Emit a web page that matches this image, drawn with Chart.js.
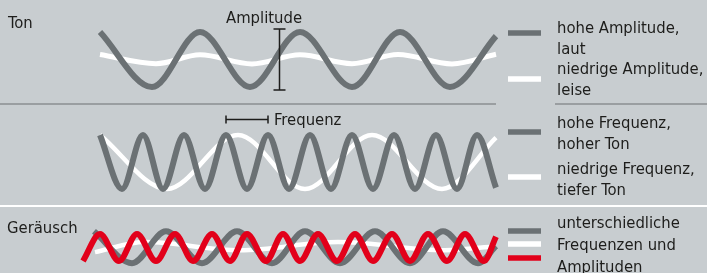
<!DOCTYPE html>
<html>
<head>
<meta charset="utf-8">
<script src="https://cdn.jsdelivr.net/npm/chart.js@4.4.1/dist/chart.umd.min.js"></script>
<style>
  body { margin: 0; background: #c8cdd0; }
  #wrap { position: relative; width: 707px; height: 273px; overflow: hidden;
          font-family: "DejaVu Sans Condensed", "DejaVu Sans", sans-serif; font-size: 16.5px; color: #1d1d1b; }
  canvas { position: absolute; left: 0; }
  .t { position: absolute; white-space: nowrap; line-height: 21px; }
  .rule { position: absolute; height: 2px; }
</style>
</head>
<body>
<div id="wrap">
  <canvas id="ton" width="707" height="104" style="top:0"></canvas>
  <canvas id="freq" width="707" height="102" style="top:104px"></canvas>
  <canvas id="rausch" width="707" height="67" style="top:206px"></canvas>

  <div class="rule" style="top:103px;left:0;width:496px;background:#9a9ea1"></div>
  <div class="rule" style="top:103px;left:555px;width:152px;background:#9a9ea1"></div>
  <div class="rule" style="top:205px;left:0;width:707px;background:#ffffff"></div>

  <div class="t" style="left:8px;top:12px">Ton</div>
  <div class="t" style="left:226px;top:7px">Amplitude</div>
  <div class="t" style="left:557px;top:17px">hohe Amplitude,<br>laut</div>
  <div class="t" style="left:557px;top:58px">niedrige Amplitude,<br>leise</div>

  <div class="t" style="left:274px;top:109px">Frequenz</div>
  <div class="t" style="left:557px;top:112px">hohe Frequenz,<br>hoher Ton</div>
  <div class="t" style="left:557px;top:158px">niedrige Frequenz,<br>tiefer Ton</div>

  <div class="t" style="left:7px;top:217px">Geräusch</div>
  <div class="t" style="left:557px;top:212px;line-height:22px">unterschiedliche<br>Frequenzen und<br>Amplituden</div>
</div>

<script>
// time (in periods of the loud tone) and relative amplitude
const tonLautT = [0, 0.52, 1.0, 1.5, 2.0, 2.52, 3.0, 3.5, 3.96];
const tonLautA = [1, -1, 1, -1, 1, -1, 1, -1, 0.85];
const tonLeiseT = [0, 0.56, 1.0, 1.52, 2.0, 2.52, 2.98, 3.52, 3.96];
const tonLeiseA = [0.18, -0.15, 0.17, -0.16, 0.17, -0.15, 0.18, -0.16, 0.19];

const freqHochT = [0, 0.22, 0.43, 0.63, 0.84, 1.05, 1.26, 1.47, 1.68, 1.89, 2.10, 2.31, 2.52, 2.73, 2.94, 3.15, 3.36, 3.57, 3.77, 3.96];
const freqHochA = [1, -1, 1, -1, 1, -1, 1, -1, 1, -1, 1, -1, 1, -1, 1, -1, 1, -1, 1, -0.95];
const freqTiefT = [0, 0.67, 1.38, 2.05, 2.72, 3.42, 3.96];
const freqTiefA = [1, -1, 1, -1, 1, -1, 0.9];

const rauschRotT = [-0.17, 0, 0.19, 0.37, 0.56, 0.75, 0.93, 1.12, 1.30, 1.47, 1.66, 1.83, 2.00, 2.18, 2.37, 2.55, 2.73, 2.92, 3.10, 3.28, 3.47, 3.65, 3.84, 3.96];
const rauschRotA = [-0.5, 0.5, -0.5, 0.5, -0.5, 0.5, -0.5, 0.5, -0.5, 0.5, -0.5, 0.5, -0.5, 0.5, -0.5, 0.5, -0.5, 0.5, -0.5, 0.5, -0.5, 0.5, -0.5, 0.4];
const rauschGrauT = [-0.06, 0.32, 0.66, 1.02, 1.37, 1.72, 2.05, 2.40, 2.75, 3.10, 3.43, 3.78, 3.96];
const rauschGrauA = [0.6, -0.58, 0.6, -0.58, 0.6, -0.58, 0.6, -0.58, 0.6, -0.58, 0.6, -0.58, 0.05];
const rauschWeissT = [-0.05, 0.45, 1.40, 2.38, 3.45, 3.96];
const rauschWeissA = [-0.17, 0.2, -0.1, 0.2, -0.1, 0.05];

const GRAU = '#6b7174';
const WEISS = '#ffffff';
const ROT = '#e2001a';

function pts(t, a) {
  return t.map((v, i) => ({ x: v, y: a[i] }));
}

function wave(label, t, a, color, width, order) {
  return {
    label: label,
    data: pts(t, a),
    borderColor: color,
    borderWidth: width,
    cubicInterpolationMode: 'monotone',
    pointRadius: 0,
    fill: false,
    order: order,
  };
}

// legend swatches + measuring bars
const decor = {
  id: 'decor',
  afterDatasetsDraw(chart, args, opts) {
    const ctx = chart.ctx;
    const xs = chart.scales.x;
    const ys = chart.scales.y;
    ctx.save();
    (opts.swatchY || []).forEach((y, i) => {
      ctx.fillStyle = chart.data.datasets[i].borderColor;
      ctx.fillRect(508, y - 2.75, 33, 5.5);
    });
    ctx.strokeStyle = '#1d1d1b';
    ctx.lineWidth = 1.5;
    if (opts.ampBar) {
      const b = opts.ampBar;
      const x = Math.round(xs.getPixelForValue(b.x)) + 0.5;
      const y1 = ys.getPixelForValue(b.top) - 3;
      const y2 = ys.getPixelForValue(b.bottom) + 3;
      ctx.beginPath();
      ctx.moveTo(x, y1); ctx.lineTo(x, y2);
      ctx.moveTo(x - 6, y1); ctx.lineTo(x + 6, y1);
      ctx.moveTo(x - 6, y2); ctx.lineTo(x + 6, y2);
      ctx.stroke();
    }
    if (opts.freqBar) {
      const b = opts.freqBar;
      const x1 = xs.getPixelForValue(b.from);
      const x2 = xs.getPixelForValue(b.to);
      const y = Math.round(ys.getPixelForValue(b.y)) + 0.5;
      ctx.beginPath();
      ctx.moveTo(x1, y); ctx.lineTo(x2, y);
      ctx.moveTo(x1, y - 4); ctx.lineTo(x1, y + 4);
      ctx.moveTo(x2, y - 4); ctx.lineTo(x2, y + 4);
      ctx.stroke();
    }
    ctx.restore();
  }
};

function makeChart(id, datasets, yMin, yMax, decorOpts) {
  return new Chart(document.getElementById(id), {
    type: 'line',
    data: { datasets: datasets },
    options: {
      responsive: false,
      animation: false,
      events: [],
      layout: { padding: 0 },
      scales: {
        x: { type: 'linear', min: -1, max: 6.07, display: false },
        y: { min: yMin, max: yMax, display: false },
      },
      plugins: {
        legend: { display: false },
        tooltip: { enabled: false },
        decor: decorOpts,
      },
    },
    plugins: [decor],
  });
}

makeChart('ton', [
  wave('hohe Amplitude, laut', tonLautT, tonLautA, GRAU, 6, 0),
  wave('niedrige Amplitude, leise', tonLeiseT, tonLeiseA, WEISS, 5, 1),
], -1.618, 2.164, {
  swatchY: [33, 79],
  ampBar: { x: 1.79, top: Math.max(...tonLautA), bottom: Math.min(...tonLautA) },
});

makeChart('freq', [
  wave('hohe Frequenz, hoher Ton', freqHochT, freqHochA, GRAU, 6, 0),
  wave('niedrige Frequenz, tiefer Ton', freqTiefT, freqTiefA, WEISS, 4.5, 1),
], -1.630, 2.148, {
  swatchY: [28, 73],
  freqBar: { from: freqHochT[6], to: freqHochT[8], y: 1.59 },
});

makeChart('rausch', [
  wave('Geräusch grau', rauschGrauT, rauschGrauA, GRAU, 6, 1),
  wave('Geräusch weiß', rauschWeissT, rauschWeissA, WEISS, 4.5, 2),
  wave('Geräusch rot', rauschRotT, rauschRotA, ROT, 6, 0),
], -0.944, 1.537, {
  swatchY: [25, 38, 52],
});
</script>
</body>
</html>
